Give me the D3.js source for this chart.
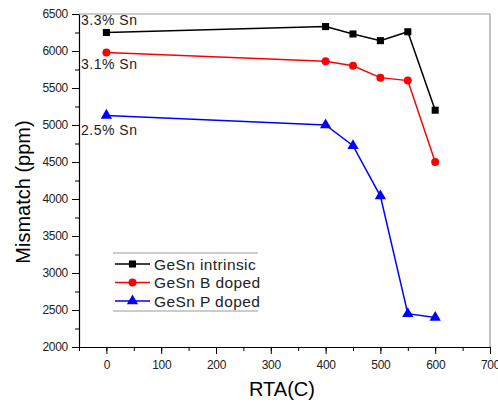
<!DOCTYPE html>
<html>
<head>
<script src="https://d3js.org/d3.v7.min.js"></script>
<style>
  body { margin: 0; background: #fff; }
  text { font-family: "Liberation Sans", Arial, sans-serif; }
</style>
</head>
<body>
<svg width="498" height="402"></svg>
<script>
var temps = [0, 400, 450, 500, 550, 600];
var intrinsic = [6250, 6330, 6230, 6140, 6260, 5200];
var bDoped = [5980, 5860, 5800, 5640, 5600, 4500];
var pDoped = [5130, 5000, 4720, 4040, 2450, 2400];
var xTicks = [0, 100, 200, 300, 400, 500, 600, 700];
var yTicks = [2000, 2500, 3000, 3500, 4000, 4500, 5000, 5500, 6000, 6500];
var notes = ["3.3% Sn", "3.1% Sn", "2.5% Sn"];

var series = [
  {name: "GeSn intrinsic", values: intrinsic, color: "#000000", shape: d3.symbolSquare},
  {name: "GeSn B doped", values: bDoped, color: "#ff0000", shape: d3.symbolCircle},
  {name: "GeSn P doped", values: pDoped, color: "#0000ff", shape: d3.symbolTriangle}
];

var svg = d3.select("svg"),
    margin = {top: 14, right: 8, bottom: 55, left: 79},
    width = +svg.attr("width") - margin.left - margin.right,
    height = +svg.attr("height") - margin.top - margin.bottom;

var x = d3.scaleLinear().domain([-50, 700]).range([0, width]),
    y = d3.scaleLinear().domain([2000, 6500]).range([height, 0]);

var g = svg.append("g")
    .attr("transform", "translate(" + margin.left + "," + margin.top + ")");

// frame top/right
g.append("path")
    .attr("d", "M0,0H" + width + "V" + height)
    .attr("fill", "none")
    .attr("stroke", "#999")
    .attr("stroke-width", 1.2);

// minor ticks
g.append("g")
    .attr("transform", "translate(0," + height + ")")
    .call(d3.axisBottom(x).tickValues(d3.range(-50, 701, 50)).tickSize(4).tickFormat(""))
    .call(function(a) { a.select(".domain").remove(); });
g.append("g")
    .call(d3.axisLeft(y).tickValues(d3.range(2000, 6501, 250)).tickSize(4).tickFormat(""))
    .call(function(a) { a.select(".domain").remove(); });

// X axis
g.append("g")
    .attr("class", "axis axis--x")
    .attr("transform", "translate(0," + height + ")")
    .call(d3.axisBottom(x).tickValues(xTicks).tickSize(7).tickSizeOuter(0).tickPadding(6).tickFormat(d3.format("d")))
    .call(function(a) {
        a.selectAll("text").style("font-size", "12px").attr("fill", "#222").attr("letter-spacing", "-0.3");
        a.select(".domain").attr("stroke-width", 1.2);
    });

// Y axis
g.append("g")
    .attr("class", "axis axis--y")
    .call(d3.axisLeft(y).tickValues(yTicks).tickSize(7).tickSizeOuter(0).tickPadding(4).tickFormat(d3.format("d")))
    .call(function(a) {
        a.selectAll("text").style("font-size", "12px").attr("fill", "#222").attr("letter-spacing", "-0.3");
        a.select(".domain").attr("stroke-width", 1.2);
    });

// axis titles
svg.append("text")
    .attr("x", 282)
    .attr("y", 396)
    .style("text-anchor", "middle")
    .style("font-size", "20px")
    .text("RTA(C)");

svg.append("text")
    .attr("transform", "translate(30,192) rotate(-90)")
    .style("text-anchor", "middle")
    .style("font-size", "20px")
    .text("Mismatch (ppm)");

var line = d3.line()
    .x(function(d, i) { return x(temps[i]); })
    .y(function(d) { return y(d); });

series.forEach(function(s) {
    g.append("path")
        .datum(s.values)
        .attr("fill", "none")
        .attr("stroke", s.color)
        .attr("stroke-width", 1.5)
        .attr("d", line);
    g.selectAll(null)
        .data(s.values)
        .enter().append("path")
        .attr("transform", function(d, i) { return "translate(" + x(temps[i]) + "," + y(d) + ")"; })
        .attr("d", d3.symbol().type(s.shape).size(s.shape === d3.symbolTriangle ? 55 : 50))
        .attr("fill", s.color);
});

// annotations
notes.forEach(function(n, i) {
    var yy = [11, 55, 121][i];
    g.append("text")
        .attr("x", 2)
        .attr("y", yy)
        .style("font-size", "14px")
        .attr("letter-spacing", "0.5")
        .attr("fill", "#222")
        .text(n);
});

// legend
var lg = svg.append("g").attr("transform", "translate(113,253)");
lg.append("line").attr("x1", 0).attr("x2", 145).attr("y1", 0).attr("y2", 0).attr("stroke", "#999");
lg.append("line").attr("x1", 0).attr("x2", 145).attr("y1", 58).attr("y2", 58).attr("stroke", "#999");
series.forEach(function(s, i) {
    var yy = 11 + i * 18.5;
    lg.append("line").attr("x1", 2).attr("x2", 37).attr("y1", yy).attr("y2", yy)
        .attr("stroke", s.color).attr("stroke-width", 1.5);
    lg.append("path")
        .attr("transform", "translate(19.5," + yy + ")")
        .attr("d", d3.symbol().type(s.shape).size(s.shape === d3.symbolTriangle ? 55 : 50))
        .attr("fill", s.color);
    lg.append("text")
        .attr("x", 41)
        .attr("y", yy + 5.5)
        .style("font-size", "15.5px")
        .attr("letter-spacing", "0.4")
        .attr("fill", "#222")
        .text(s.name);
});
</script>
</body>
</html>
